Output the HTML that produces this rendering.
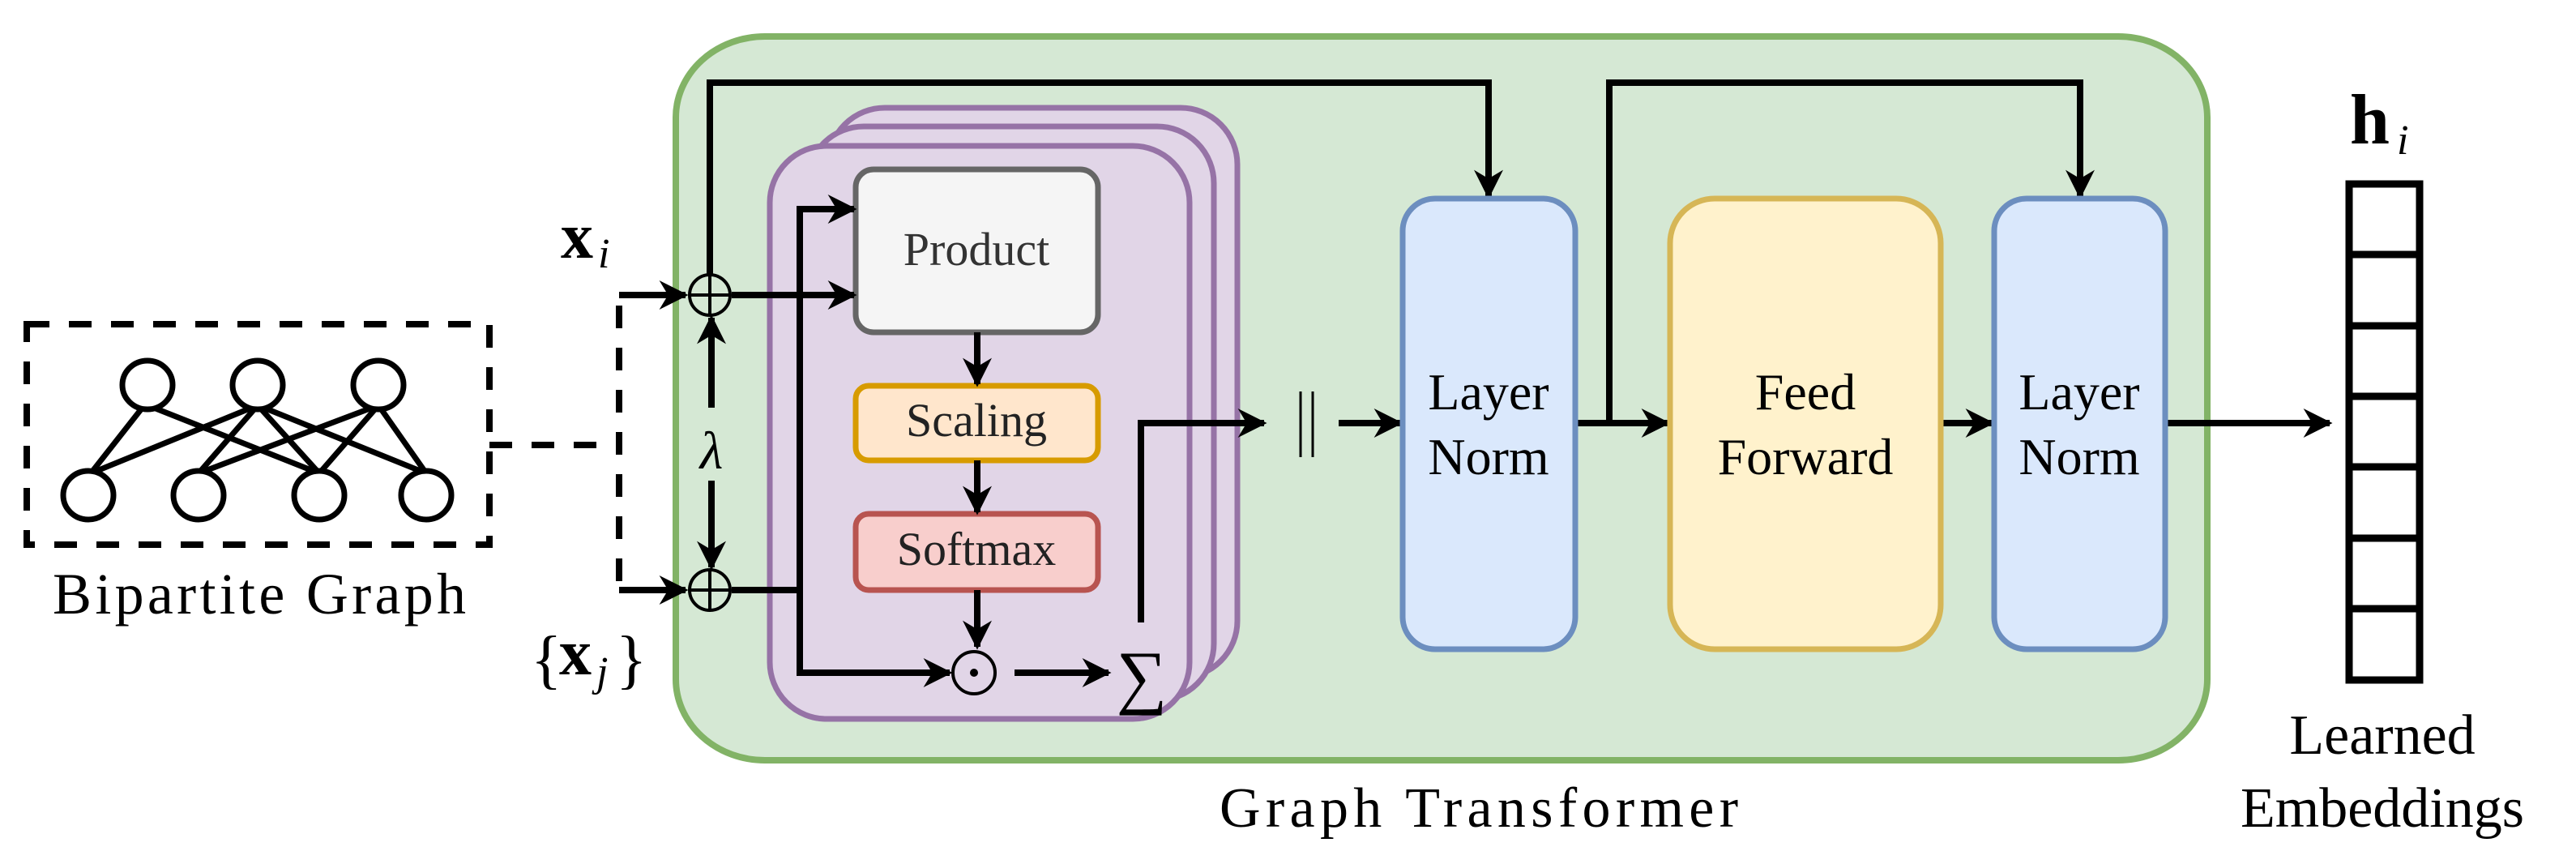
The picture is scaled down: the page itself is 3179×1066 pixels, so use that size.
<!DOCTYPE html>
<html><head><meta charset="utf-8"><style>
html,body{margin:0;padding:0;background:#fff;}
svg{display:block;}
text{font-family:"Liberation Serif",serif;}
</style></head><body>
<svg width="3179" height="1066" viewBox="0 0 3179 1066" xmlns="http://www.w3.org/2000/svg">
<defs>
<marker id="ah" viewBox="0 0 10 10" refX="9" refY="5" markerWidth="4.5" markerHeight="4.5" markerUnits="strokeWidth" orient="auto">
<path d="M0,0 L10,5 L0,10 L3,5 z" fill="#000"/></marker>
</defs>
<!-- Bipartite graph -->
<rect x="33" y="400" width="571" height="272" fill="none" stroke="#000" stroke-width="8" stroke-dasharray="28,24"/>
<g stroke="#000" stroke-width="7" fill="none">
<line x1="178" y1="500" x2="112" y2="584"/>
<line x1="182" y1="500" x2="394" y2="584"/>
<line x1="318" y1="500" x2="112" y2="584"/>
<line x1="318" y1="500" x2="245" y2="584"/>
<line x1="318" y1="500" x2="394" y2="584"/>
<line x1="318" y1="500" x2="526" y2="584"/>
<line x1="467" y1="500" x2="245" y2="584"/>
<line x1="467" y1="500" x2="394" y2="584"/>
<line x1="467" y1="500" x2="526" y2="584"/>
<ellipse cx="182" cy="475" rx="31" ry="30" fill="#fff"/>
<ellipse cx="318" cy="475" rx="31" ry="30" fill="#fff"/>
<ellipse cx="467" cy="475" rx="31" ry="30" fill="#fff"/>
<ellipse cx="109" cy="611" rx="31" ry="30" fill="#fff"/>
<ellipse cx="245" cy="611" rx="31" ry="30" fill="#fff"/>
<ellipse cx="394" cy="611" rx="31" ry="30" fill="#fff"/>
<ellipse cx="526" cy="611" rx="31" ry="30" fill="#fff"/>
</g>
<text x="320" y="757" font-size="72" text-anchor="middle" textLength="510">Bipartite Graph</text>
<!-- dashed connector -->
<g stroke="#000" stroke-width="8" fill="none" stroke-dasharray="28,24">
<line x1="604" y1="549" x2="764" y2="549"/>
<line x1="764" y1="377" x2="764" y2="728"/>
</g>
<!-- green container -->
<rect x="834" y="45" width="1890" height="893" rx="110" ry="100" fill="#d5e8d4" stroke="#82b366" stroke-width="8"/>
<text x="1825" y="1020" font-size="70" text-anchor="middle" textLength="640">Graph Transformer</text>
<!-- purple stack -->
<rect x="1022" y="133" width="505" height="703" rx="70" fill="#e1d5e7" stroke="#9673a6" stroke-width="7"/>
<rect x="996" y="156" width="502" height="708" rx="70" fill="#e1d5e7" stroke="#9673a6" stroke-width="7"/>
<rect x="950" y="180" width="518" height="707" rx="70" fill="#e1d5e7" stroke="#9673a6" stroke-width="7"/>
<!-- inner boxes -->
<rect x="1056" y="209" width="299" height="201" rx="22" fill="#f5f5f5" stroke="#666" stroke-width="7"/>
<text x="1205" y="327" font-size="58" text-anchor="middle" fill="#333">Product</text>
<rect x="1056" y="476" width="299" height="92" rx="16" fill="#ffe6cc" stroke="#d79b00" stroke-width="7"/>
<text x="1205" y="538" font-size="58" text-anchor="middle" fill="#222">Scaling</text>
<rect x="1056" y="634" width="299" height="94" rx="16" fill="#f8cecc" stroke="#b85450" stroke-width="7"/>
<text x="1205" y="697" font-size="58" text-anchor="middle" fill="#222">Softmax</text>
<!-- arrows inside -->
<g stroke="#000" stroke-width="8" fill="none">
<line x1="1206" y1="410" x2="1206" y2="474" marker-end="url(#ah)"/>
<line x1="1206" y1="568" x2="1206" y2="632" marker-end="url(#ah)"/>
<line x1="1206" y1="728" x2="1206" y2="798" marker-end="url(#ah)"/>
<line x1="903" y1="364" x2="1054" y2="364" marker-end="url(#ah)"/>
<polyline points="903,728 987,728 987,830 1172,830" marker-end="url(#ah)"/>
<polyline points="987,728 987,258 1054,258" marker-end="url(#ah)"/>
<line x1="1252" y1="830" x2="1368" y2="830" marker-end="url(#ah)"/>
<polyline points="1408,768 1408,522 1560,522" marker-end="url(#ah)"/>
<!-- input arrows -->
<line x1="764" y1="364" x2="846" y2="364" marker-end="url(#ah)"/>
<line x1="764" y1="728" x2="846" y2="728" marker-end="url(#ah)"/>
<!-- lambda arrows -->
<line x1="878" y1="503" x2="878" y2="392" marker-end="url(#ah)"/>
<line x1="878" y1="593" x2="878" y2="700" marker-end="url(#ah)"/>
<!-- top skip -->
<polyline points="876,338 876,102 1837,102 1837,242" marker-end="url(#ah)"/>
<polyline points="1986,522 1986,102 2567,102 2567,242" marker-end="url(#ah)"/>
<line x1="1652" y1="522" x2="1728" y2="522" marker-end="url(#ah)"/>
<line x1="1944" y1="522" x2="2058" y2="522" marker-end="url(#ah)"/>
<line x1="2395" y1="522" x2="2458" y2="522" marker-end="url(#ah)"/>
<line x1="2672" y1="522" x2="2875" y2="522" marker-end="url(#ah)"/>
</g>
<!-- oplus -->
<g stroke="#000" stroke-width="4" fill="none">
<circle cx="876" cy="364" r="25"/><line x1="851" y1="364" x2="901" y2="364"/><line x1="876" y1="339" x2="876" y2="389"/>
<circle cx="876" cy="728" r="25"/><line x1="851" y1="728" x2="901" y2="728"/><line x1="876" y1="703" x2="876" y2="753"/>
<circle cx="1202" cy="830" r="26"/>
</g>
<circle cx="1202" cy="830" r="5" fill="#000"/>
<text x="1409" y="864" font-size="88" text-anchor="middle">∑</text>
<text x="878" y="578" font-size="66" text-anchor="middle" font-style="italic">λ</text>
<text x="692" y="318" font-size="80" font-weight="bold">x</text><text x="738" y="330" font-size="52" font-style="italic">i</text>
<text x="655" y="840" font-size="80">{</text><text x="690" y="832" font-size="80" font-weight="bold">x</text><text x="736" y="846" font-size="52" font-style="italic">j</text><text x="760" y="840" font-size="80">}</text>
<!-- || -->
<line x1="1605" y1="483" x2="1605" y2="564" stroke="#000" stroke-width="3"/>
<line x1="1620" y1="483" x2="1620" y2="564" stroke="#000" stroke-width="3"/>
<!-- LN / FF -->
<rect x="1731" y="245" width="213" height="556" rx="40" fill="#dae8fc" stroke="#6c8ebf" stroke-width="7"/>
<text x="1837" y="505" font-size="64" text-anchor="middle">Layer</text>
<text x="1837" y="585" font-size="64" text-anchor="middle">Norm</text>
<rect x="2061" y="245" width="334" height="556" rx="55" fill="#fff2cc" stroke="#d6b656" stroke-width="7"/>
<text x="2228" y="505" font-size="64" text-anchor="middle">Feed</text>
<text x="2228" y="585" font-size="64" text-anchor="middle">Forward</text>
<rect x="2461" y="245" width="211" height="556" rx="40" fill="#dae8fc" stroke="#6c8ebf" stroke-width="7"/>
<text x="2566" y="505" font-size="64" text-anchor="middle">Layer</text>
<text x="2566" y="585" font-size="64" text-anchor="middle">Norm</text>
<!-- embeddings -->
<g stroke="#000" stroke-width="9" fill="#fff">
<rect x="2899" y="227" width="87" height="612"/>
<line x1="2899" y1="314" x2="2986" y2="314"/>
<line x1="2899" y1="402" x2="2986" y2="402"/>
<line x1="2899" y1="489" x2="2986" y2="489"/>
<line x1="2899" y1="576" x2="2986" y2="576"/>
<line x1="2899" y1="664" x2="2986" y2="664"/>
<line x1="2899" y1="751" x2="2986" y2="751"/>
</g>
<text x="2900" y="177" font-size="88" font-weight="bold">h</text><text x="2958" y="190" font-size="52" font-style="italic">i</text>
<text x="2940" y="930" font-size="70" text-anchor="middle">Learned</text>
<text x="2940" y="1020" font-size="70" text-anchor="middle">Embeddings</text>
</svg>
</body></html>
